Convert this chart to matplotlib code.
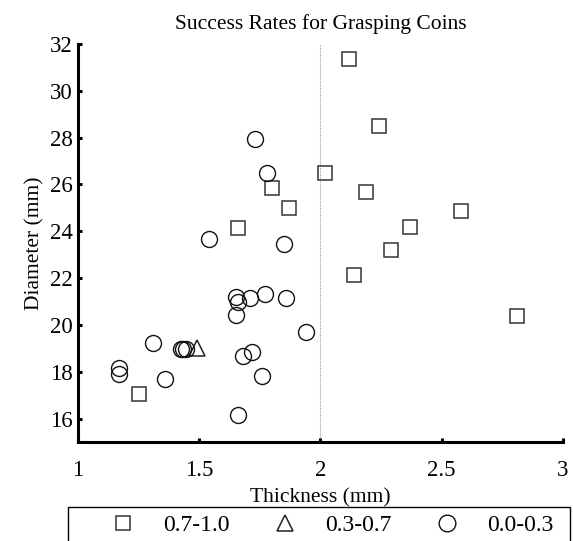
import matplotlib
matplotlib.use("Agg")
import matplotlib.pyplot as plt
from matplotlib.patches import Rectangle
from matplotlib.lines import Line2D

plt.rcParams['font.family'] = ['Liberation Serif', 'DejaVu Serif']

# Data
high_x = [2.12, 2.24, 2.02, 1.80, 2.19, 1.87, 2.58, 2.37, 1.66, 2.29, 2.14, 2.81, 1.25]
high_y = [31.35, 28.50, 26.47, 25.87, 25.68, 25.00, 24.86, 24.19, 24.16, 23.22, 22.15, 20.38, 17.03]
mid_x = [1.49]
mid_y = [19.0]
low_x = [1.73, 1.78, 1.54, 1.85, 1.65, 1.66, 1.71, 1.77, 1.86, 1.65, 1.94, 1.31,
         1.425, 1.435, 1.445, 1.17, 1.17, 1.36, 1.68, 1.72, 1.76, 1.66]
low_y = [27.95, 26.47, 23.69, 23.44, 21.20, 20.98, 21.13, 21.34, 21.13, 20.41, 19.68, 19.25,
         18.98, 18.96, 18.98, 18.14, 17.89, 17.71, 18.66, 18.85, 17.82, 16.14]
labels = ['0.7-1.0', '0.3-0.7', '0.0-0.3']
xticks = [1, 1.5, 2, 2.5, 3]
yticks = [16, 18, 20, 22, 24, 26, 28, 30, 32]

W, H = 573, 541
fig = plt.figure(figsize=(W / 100, H / 100), dpi=100)
ax = fig.add_axes([78 / W, 99 / H, 484.7 / W, 398 / H])

tick_fs = 16.5
lab_fs = 15.5
leg_fs = 17

ax.axvline(2, color='#999999', lw=0.8, ls=(0, (1, 1)), zorder=1)

ax.plot(high_x, high_y, ls='none', marker='s', ms=9.5, mfc='none', mec='#333333', mew=1.1, zorder=3)
ax.plot(mid_x, mid_y, ls='none', marker='^', ms=11, mfc='none', mec='#222222', mew=1.1, zorder=3)
ax.plot(low_x, low_y, ls='none', marker='o', ms=11.5, mfc='none', mec='#111111', mew=1.0, zorder=3)

ax.set_xlim(1, 3)
ax.set_ylim(15, 32)
ax.set_xticks(xticks)
ax.set_xticklabels([f'{t:g}' for t in xticks])
ax.set_yticks(yticks)
ax.spines['top'].set_visible(False)
ax.spines['right'].set_visible(False)
for s in ('left', 'bottom'):
    ax.spines[s].set_linewidth(2.2)
    ax.spines[s].set_color('black')
ax.tick_params(direction='in', length=3, width=2.2, labelsize=tick_fs, colors='black')
ax.tick_params(axis='x', pad=13)
ax.tick_params(axis='y', pad=4)

ax.set_title('Success Rates for Grasping Coins', fontsize=lab_fs, pad=11)
ax.set_xlabel('Thickness (mm)', fontsize=lab_fs, labelpad=5)
ax.set_ylabel('Diameter (mm)', fontsize=lab_fs, labelpad=4)

# Legend box (extends past the bottom edge)
fig.patches.append(Rectangle((68 / W, -20 / H), 502 / W, (541 - 507 + 20) / H,
                             transform=fig.transFigure, fill=False, ec='black', lw=1.0))
handles = [
    Line2D([], [], ls='none', marker='s', ms=9.5, mfc='none', mec='#333333', mew=1.1),
    Line2D([], [], ls='none', marker='^', ms=12, mfc='none', mec='#222222', mew=1.1),
    Line2D([], [], ls='none', marker='o', ms=12, mfc='none', mec='#111111', mew=1.0),
]
fig.legend(handles, labels, ncol=3, frameon=False, fontsize=leg_fs,
           loc='center left', bbox_to_anchor=(111.2 / W, 1 - 525 / H),
           borderpad=0, borderaxespad=0, handlelength=1.0, handletextpad=1.2,
           columnspacing=1.85)

fig.savefig('out.png', dpi=100)
